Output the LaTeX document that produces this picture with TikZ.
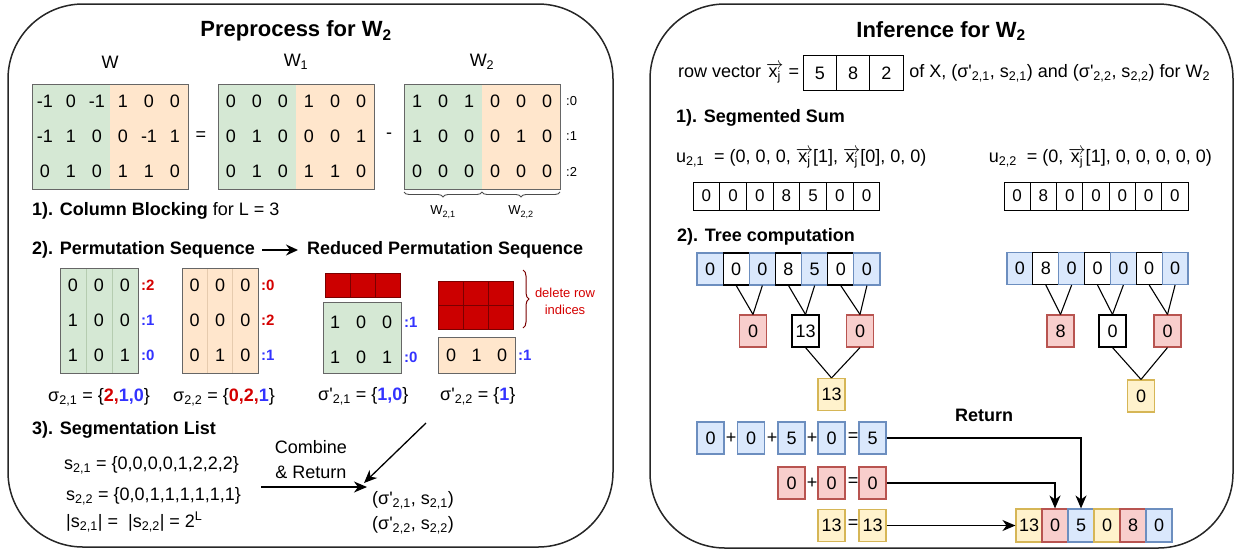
\documentclass[tikz,border=0pt]{standalone}
\usepackage{fontspec}
\setmainfont{Liberation Sans}
\usetikzlibrary{arrows.meta,decorations.pathreplacing,calc}

\definecolor{gfill}{HTML}{D5E8D4}
\definecolor{ofill}{HTML}{FFE6CC}
\definecolor{gsep}{HTML}{B5CCB0}
\definecolor{osep}{HTML}{E6CBAE}
\definecolor{bfill}{HTML}{DAE8FC}
\definecolor{bline}{HTML}{6C8EBF}
\definecolor{rfill}{HTML}{F8CECC}
\definecolor{rline}{HTML}{B85450}
\definecolor{yfill}{HTML}{FFF2CC}
\definecolor{yline}{HTML}{D6B656}
\definecolor{dred}{HTML}{CC0000}
\definecolor{dredline}{HTML}{7A0000}
\definecolor{idxred}{HTML}{D40000}
\definecolor{idxblue}{HTML}{3333FF}

\newcommand{\sbs}[1]{\textsubscript{#1}}
\newcommand{\prm}{\textquotesingle}
% x_j with a vector arrow above it
\newcommand{\vx}{\ensuremath{\overrightarrow{\mbox{x\sbs{j}}}}}

% digits of a matrix: name, first column centre x, first row centre y, column step, rows
\newcommand\putdigits[5]{%
  \foreach \rw [count=\ri] in {#5} {%
    \foreach \v [count=\ci] in \rw {%
      \node[mtxt] (#1-\ri-\ci) at ({#2+(\ci-1)*#4},{#3+(\ri-1)*35}) {\v};
    }%
  }%
}

\begin{document}
\begin{tikzpicture}[x=1pt,y=-1pt,
  panel/.style={draw=black!85, line width=1.5pt, rounded corners=75pt},
  ttl/.style={font=\fontsize{22}{26}\selectfont\bfseries, inner sep=0pt},
  hd/.style={font=\fontsize{18}{21}\selectfont, anchor=west, inner sep=0pt},
  txt/.style={font=\fontsize{18}{21}\selectfont, inner sep=0pt},
  small/.style={font=\fontsize{13}{15}\selectfont, inner sep=0pt},
  mtxt/.style={font=\fontsize{18}{18}\selectfont, inner sep=0pt},
  idx/.style={font=\fontsize{13}{13}\selectfont, anchor=west, inner sep=0pt},
  idxb/.style={font=\fontsize{15}{15}\selectfont\bfseries, anchor=west, inner sep=0pt},
  mframe/.style={draw=black!60, line width=1pt},
  rblk/.style={draw=dredline, fill=dred, line width=1pt, minimum width=25pt, minimum height=24pt, inner sep=0pt},
  brc/.style={decorate, decoration={brace, amplitude=5pt, mirror}, line width=0.9pt, draw=black!70},
  brcR/.style={decorate, decoration={brace, amplitude=6pt}, line width=1pt, draw=dredline},
  box/.style={line width=1.1pt, inner sep=0pt, minimum width=27pt, minimum height=32pt, font=\fontsize{18}{18}\selectfont},
  cB/.style={box, draw=bline, fill=bfill},
  cR/.style={box, draw=rline, fill=rfill},
  cY/.style={box, draw=yline, fill=yfill},
  cW/.style={box, draw=black, fill=white},
  rv/.style={draw=black, line width=1.1pt, minimum width=33.3pt, minimum height=35pt, inner sep=0pt, outer sep=0pt, anchor=west, font=\fontsize{18}{18}\selectfont},
  sc/.style={draw=black, line width=1pt, minimum width=26.7pt, minimum height=28pt, inner sep=0pt, font=\fontsize{17}{17}\selectfont},
  edge/.style={line width=1.1pt},
  arr/.style={line width=1.3pt, -{Stealth[length=13pt, width=11pt, inset=4pt]}},
  arrS/.style={line width=1.8pt, -{Stealth[length=12pt, width=11pt, inset=4pt]}}
]
\useasboundingbox (0,0) rectangle (1238,550);

% ================= Preprocess panel =================
\draw[panel] (8,4) rectangle (613,547);
\node[ttl] (ttlL) at (296,31) {Preprocess for W\sbs{2}};

\node[txt] (lW)  at (110,62) {W};
\node[txt] (lW1) at (296,62) {W\sbs{1}};
\node[txt] (lW2) at (482,62) {W\sbs{2}};

% W
\fill[gfill] (32,84) rectangle (110,189);
\fill[ofill] (110,84) rectangle (188,189);
\draw[mframe] (32,84) rectangle (188,189);
\putdigits{w}{45}{101.5}{26}{{-1,0,-1,1,0,0},{-1,1,0,0,-1,1},{0,1,0,1,1,0}}
\node[txt] (eqA) at (201,136) {=};

% W1
\fill[gfill] (218,84) rectangle (296,189);
\fill[ofill] (296,84) rectangle (374,189);
\draw[mframe] (218,84) rectangle (374,189);
\putdigits{wa}{231}{101.5}{26}{{0,0,0,1,0,0},{0,1,0,0,0,1},{0,1,0,1,1,0}}
\node[txt] (minus) at (389,136) {-};

% W2
\fill[gfill] (404,84) rectangle (482,189);
\fill[ofill] (482,84) rectangle (560,189);
\draw[mframe] (404,84) rectangle (560,189);
\putdigits{wb}{417}{101.5}{26}{{1,0,1,0,0,0},{1,0,0,0,1,0},{0,0,0,0,0,0}}
\foreach \l [count=\i] in {0,1,2}
  \node[idx] (rl\i) at (566,{101.5+35*(\i-1)}) {:\l};

\draw[brc] (404,192) -- (482,192);
\draw[brc] (482,192) -- (560,192);
\node[small] (bw1) at (443,212) {W\sbs{2,1}};
\node[small] (bw2) at (521,212) {W\sbs{2,2}};

\node[hd] (s1) at (32,211) {\textbf{1). Column Blocking} for L = 3};

% permutation sequence
\node[hd] (s2a) at (32,250) {\textbf{2). Permutation Sequence}};
\node[hd] (s2b) at (307,250) {\textbf{Reduced Permutation Sequence}};
\draw[arrS] ([xshift=7pt]s2a.east) -- ([xshift=-9pt]s2b.west);

\fill[gfill] (60,268) rectangle (138,373);
\draw[gsep, line width=0.8pt] (86,268) -- (86,373) (112,268) -- (112,373);
\draw[mframe] (60,268) rectangle (138,373);
\putdigits{pa}{73}{285.5}{26}{{0,0,0},{1,0,0},{1,0,1}}
\node[idxb, text=idxred]  (pal1) at (141,285.5) {:2};
\node[idxb, text=idxblue] (pal2) at (141,320.5) {:1};
\node[idxb, text=idxblue] (pal3) at (141,355.5) {:0};

\fill[ofill] (182,268) rectangle (258,373);
\draw[osep, line width=0.8pt] (207.3,268) -- (207.3,373) (232.7,268) -- (232.7,373);
\draw[mframe] (182,268) rectangle (258,373);
\putdigits{pb}{194.7}{285.5}{25.33}{{0,0,0},{0,0,0},{0,1,0}}
\node[idxb, text=idxred]  (pbl1) at (261,285.5) {:0};
\node[idxb, text=idxred]  (pbl2) at (261,320.5) {:2};
\node[idxb, text=idxblue] (pbl3) at (261,355.5) {:1};

\node[txt, anchor=west] (sg1) at (48,397) {σ\sbs{2,1} = \{\textcolor{idxred}{\textbf{2,}}\textcolor{idxblue}{\textbf{1,0}}\}};
\node[txt, anchor=west] (sg2) at (173,397) {σ\sbs{2,2} = \{\textcolor{idxred}{\textbf{0,2,}}\textcolor{idxblue}{\textbf{1}}\}};

% reduced permutation sequence
\foreach \i in {0,1,2}
  \node[rblk] (ra\i) at ({337.5+25*\i},285) {};
\fill[gfill] (323,302) rectangle (401,373);
\draw[mframe] (323,302) rectangle (401,373);
\putdigits{rc}{335}{322}{26}{{1,0,0},{1,0,1}}
\node[idxb, text=idxblue] (rcl1) at (404,322) {:1};
\node[idxb, text=idxblue] (rcl2) at (404,357) {:0};

\foreach \i in {0,1,2}
  \foreach \j in {0,1}
    \node[rblk] (rb\i\j) at ({450.5+25*\i},{293+24*\j}) {};
\fill[ofill] (438,337) rectangle (515,373);
\draw[mframe] (438,337) rectangle (515,373);
\putdigits{rd}{451}{355}{25.5}{{0,1,0}}
\node[idxb, text=idxblue] (rdl1) at (518,355) {:1};

\draw[brcR] (523,270) -- (523,328);
\node[font=\fontsize{13}{17}\selectfont, inner sep=0pt, text=idxred, align=center] (del) at (565,301) {delete row\\indices};

\node[txt, anchor=west] (sp1) at (318,396) {σ\prm\sbs{2,1} = \{\textcolor{idxblue}{\textbf{1,0}}\}};
\node[txt, anchor=west] (sp2) at (440,396) {σ\prm\sbs{2,2} = \{\textcolor{idxblue}{\textbf{1}}\}};

% segmentation list
\node[hd] (s3) at (32,430) {\textbf{3). Segmentation List}};
\node[txt, anchor=west] (sl1) at (64,465) {s\sbs{2,1} = \{0,0,0,0,1,2,2,2\}};
\node[txt, anchor=west] (sl2) at (66,496) {s\sbs{2,2} = \{0,0,1,1,1,1,1,1\}};
\node[txt, anchor=west] (sl3) at (66,522) {|s\sbs{2,1}| = \ |s\sbs{2,2}| = 2\textsuperscript{L}};

\node[font=\fontsize{18}{25}\selectfont, inner sep=0pt, align=center] (cmb) at (311,460) {Combine\\\& Return};
\coordinate (ca) at (261,487);
\coordinate (cb) at (367,487);
\draw[arr] (ca) -- (cb);
\coordinate (da) at (426,423);
\coordinate (db) at (364,483);
\draw[arr] (da) -- (db);

\node[txt, anchor=west] (res1) at (372,500) {(σ\prm\sbs{2,1}, s\sbs{2,1})};
\node[txt, anchor=west] (res2) at (372,525) {(σ\prm\sbs{2,2}, s\sbs{2,2})};

% ================= Inference panel =================
\draw[panel] (650,4) rectangle (1233,548);
\node[ttl] (ttlR) at (941,31) {Inference for W\sbs{2}};

\node[txt, anchor=west] (rvl) at (678,73) {row vector \vx\ =};
\node[rv] (rv1) at ([xshift=4pt]rvl.east) {5};
\node[rv] (rv2) at (rv1.east) {8};
\node[rv] (rv3) at (rv2.east) {2};
\node[txt, anchor=west] (rvr) at ([xshift=6pt]rv3.east) {of X, (σ\prm\sbs{2,1}, s\sbs{2,1}) and (σ\prm\sbs{2,2}, s\sbs{2,2}) for W\sbs{2}};

% segmented sum
\node[hd] (r1) at (676,118) {\textbf{1). Segmented Sum}};
\node[txt, anchor=west] (u1) at (676,158) {u\sbs{2,1}\ \ = (0, 0, 0, \vx[1], \vx[0], 0, 0)};
\node[txt, anchor=east] (u2) at (1212,158) {u\sbs{2,2}\ \ = (0, \vx[1], 0, 0, 0, 0, 0)};
\foreach \v [count=\i] in {0,0,0,8,5,0,0}
  \node[sc] (ua\i) at ({693+26.7*\i-13.35},196) {\v};
\foreach \v [count=\i] in {0,8,0,0,0,0,0}
  \node[sc, minimum width=26.3pt] (ub\i) at ({1004+26.3*\i-13.15},196) {\v};

% tree computation
\node[hd] (r2) at (677,237) {\textbf{2). Tree computation}};

\foreach \v/\s [count=\i] in {0/cB,0/cW,0/cB,8/cW,5/cB,0/cW,0/cB}
  \node[\s, minimum width=26.14pt] (ta\i) at ({697+26.14*\i-13.07},269) {\v};
\node[cR] (tam1) at (753,331) {0};
\node[cW] (tam2) at (805.5,331) {13};
\node[cR] (tam3) at (860,331) {0};
\node[cY] (tab) at (831.5,394.5) {13};
\draw[edge] (ta2.south) -- (tam1.north);
\draw[edge] (ta3.south) -- (tam1.north);
\draw[edge] (ta4.south) -- (tam2.north);
\draw[edge] (ta5.south) -- (tam2.north);
\draw[edge] (ta6.south) -- (tam3.north);
\draw[edge] (ta7.south) -- (tam3.north);
\draw[edge] (tam2.south) -- (tab.north);
\draw[edge] (tam3.south) -- (tab.north);

\foreach \v/\s [count=\i] in {0/cB,8/cW,0/cB,0/cW,0/cB,0/cW,0/cB}
  \node[\s, minimum width=25.86pt] (tb\i) at ({1007+25.86*\i-12.93},268.5) {\v};
\node[cR] (tbm1) at (1060.5,331) {8};
\node[cW] (tbm2) at (1112.5,331) {0};
\node[cR] (tbm3) at (1167.5,331) {0};
\node[cY] (tbb) at (1141,396) {0};
\draw[edge] (tb2.south) -- (tbm1.north);
\draw[edge] (tb3.south) -- (tbm1.north);
\draw[edge] (tb4.south) -- (tbm2.north);
\draw[edge] (tb5.south) -- (tbm2.north);
\draw[edge] (tb6.south) -- (tbm3.north);
\draw[edge] (tb7.south) -- (tbm3.north);
\draw[edge] (tbm2.south) -- (tbb.north);
\draw[edge] (tbm3.south) -- (tbb.north);

% return
\node[txt] (ret) at (984,415) {\textbf{Return}};

\foreach \v/\x [count=\i] in {0/710.5,0/751,5/791.5,0/831.5,5/872.5}
  \node[cB] (qa\i) at (\x,438) {\v};
\node[txt] (pa1) at (731,438) {+};
\node[txt] (pa2) at (772,438) {+};
\node[txt] (pa3) at (812,438) {+};
\node[txt] (ea1) at (853,437) {=};

\node[cR] (qb1) at (791.5,483) {0};
\node[cR] (qb2) at (831.5,483) {0};
\node[cR] (qb3) at (872.5,483) {0};
\node[txt] (pb1) at (812,483) {+};
\node[txt] (eb1) at (853,482) {=};

\node[cY] (qc1) at (831.5,525.5) {13};
\node[cY] (qc2) at (872.5,525.5) {13};
\node[txt] (ec1) at (853,524.5) {=};

\foreach \v/\s [count=\i] in {13/cY,0/cR,5/cB,0/cY,8/cR,0/cB}
  \node[\s, minimum width=26pt, minimum height=33pt] (f\i) at ({1016+26*\i-13},525.5) {\v};

\draw[arr] (qa5.east) -| (f3.north);
\draw[arr] (qb3.east) -| (f2.north);
\draw[arr] (qc2.east) -- (f1.west);
\end{tikzpicture}
\end{document}
